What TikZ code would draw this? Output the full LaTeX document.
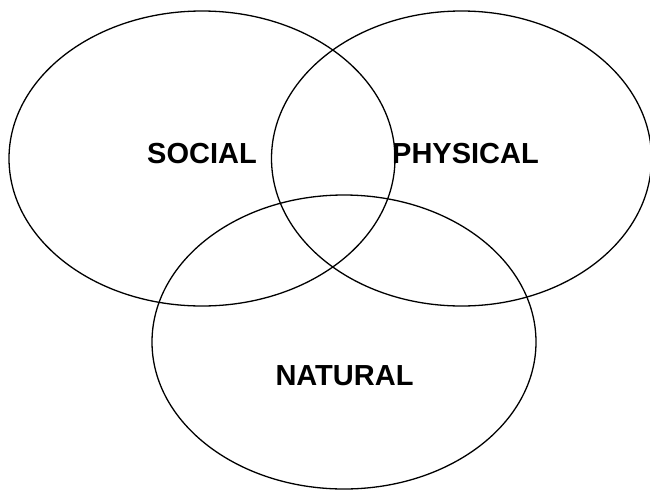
\documentclass[tikz,border=0pt]{standalone}
\usepackage{fontspec}
\setmainfont{Liberation Sans}
\begin{document}
\begin{tikzpicture}[
  x=1pt, y=-1pt,
  line width=1.3pt,
  setring/.style={draw=black},
  every node/.style={inner sep=0pt, font=\fontsize{29pt}{29pt}\selectfont\bfseries}
]
  \useasboundingbox (0,0) rectangle (650,490);
  % ---- centres of the three sets ----
  \coordinate (soc) at (202,158.5);
  \coordinate (phy) at (461.5,158.5);
  \coordinate (nat) at (344,342);
  % ---- ellipses ----
  \draw[setring] (soc) ellipse [x radius=193, y radius=147.5];
  \draw[setring] (phy) ellipse [x radius=190, y radius=147.5];
  \draw[setring] (nat) ellipse [x radius=192, y radius=147];
  % ---- labels ----
  \node (socl) at (202,154) {SOCIAL};
  \node (phyl) at (465.5,154) {PHYSICAL};
  \node (natl) at (344.5,376) {NATURAL};
\end{tikzpicture}
\end{document}
